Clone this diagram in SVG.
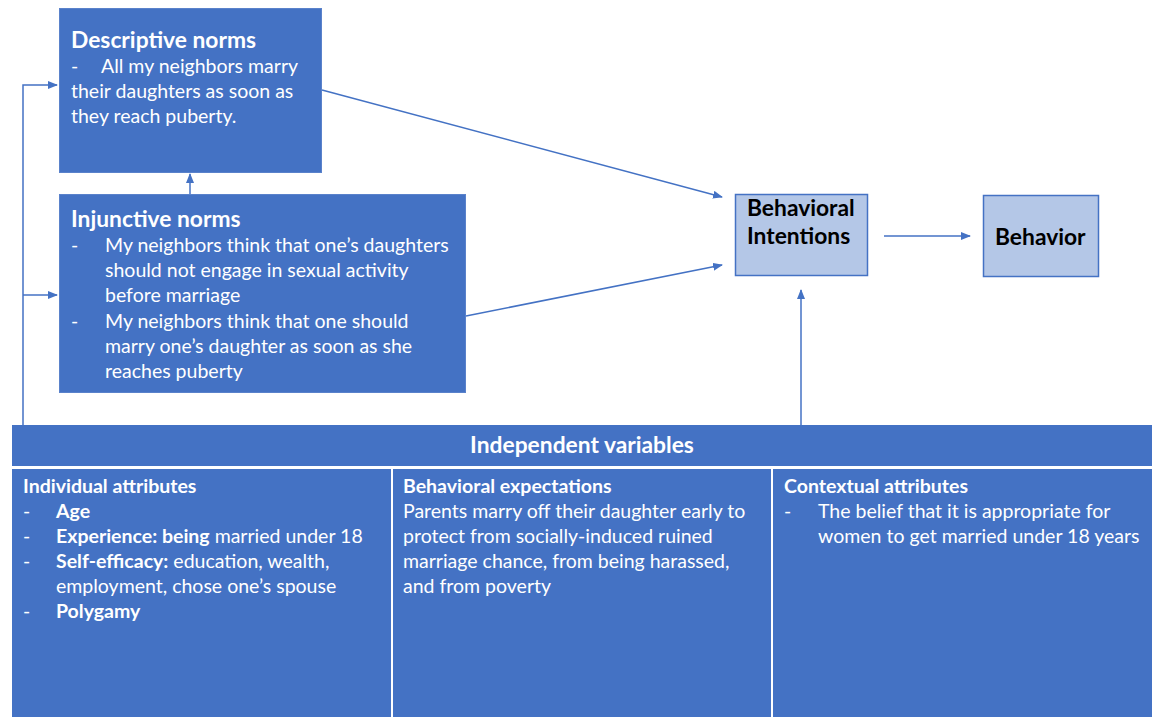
<svg xmlns="http://www.w3.org/2000/svg" width="1153" height="717" viewBox="0 0 1153 717">
<style>
.dark{fill:#4472C4;stroke:#5A82CB;stroke-width:1}
.light{fill:#B4C7E7;stroke:#4472C4;stroke-width:1.5}
.cell{fill:#4472C4}
text{font-family:Lato,"Liberation Sans",sans-serif;font-size:19.5px}
.w{fill:#FFFFFF}
.k{fill:#000000}
.b{font-weight:bold}
.t{font-size:22.8px;font-weight:bold}
.conn{stroke:#4472C4;stroke-width:1.5;fill:none}
</style>
<defs>
<marker id="ah" markerWidth="10" markerHeight="8" refX="9" refY="4" orient="auto" markerUnits="userSpaceOnUse">
<path d="M0,0 L10,4 L0,8 z" fill="#4472C4"/>
</marker>
</defs>
<rect width="1153" height="717" fill="#FFFFFF"/>

<g id="connectors">
<polyline class="conn" points="23,425 23,85 57,85" marker-end="url(#ah)"/>
<line class="conn" x1="23" y1="295" x2="57" y2="295" marker-end="url(#ah)"/>
<line class="conn" x1="190" y1="194" x2="190" y2="174" marker-end="url(#ah)"/>
<line class="conn" x1="322" y1="90" x2="722" y2="197" marker-end="url(#ah)"/>
<line class="conn" x1="466" y1="316" x2="722" y2="265" marker-end="url(#ah)"/>
<line class="conn" x1="884" y1="236" x2="970" y2="236" marker-end="url(#ah)"/>
<line class="conn" x1="801" y1="425" x2="801" y2="290" marker-end="url(#ah)"/>
</g>

<g id="descriptive-norms">
<rect class="dark" x="59.5" y="8.5" width="262" height="164"/>
<text class="w t" x="71" y="48">Descriptive norms</text>
<text class="w" x="71" y="73">-</text>
<text class="w" x="101" y="73">All my neighbors marry</text>
<text class="w" x="71" y="98">their daughters as soon as</text>
<text class="w" x="71" y="123">they reach puberty.</text>
</g>

<g id="injunctive-norms">
<rect class="dark" x="59.5" y="194.5" width="406" height="198"/>
<text class="w t" x="71" y="227">Injunctive norms</text>
<text class="w" x="71" y="252">-</text>
<text class="w" x="105" y="252">My neighbors think that one’s daughters</text>
<text class="w" x="105" y="277">should not engage in sexual activity</text>
<text class="w" x="105" y="302">before marriage</text>
<text class="w" x="71" y="328">-</text>
<text class="w" x="105" y="328">My neighbors think that one should</text>
<text class="w" x="105" y="353">marry one’s daughter as soon as she</text>
<text class="w" x="105" y="378">reaches puberty</text>
</g>

<g id="behavioral-intentions">
<rect class="light" x="735.5" y="194.5" width="132" height="81"/>
<text class="k t" x="747" y="216">Behavioral</text>
<text class="k t" x="747" y="244">Intentions</text>
</g>

<g id="behavior">
<rect class="light" x="983.5" y="195.5" width="115" height="81"/>
<text class="k t" x="995" y="245">Behavior</text>
</g>

<g id="independent-variables">
<rect class="cell" x="12" y="425" width="1140" height="41"/>
<text class="w t" x="582" y="453" text-anchor="middle">Independent variables</text>
</g>

<g id="individual-attributes">
<rect class="cell" x="12" y="469" width="379" height="248"/>
<text class="w b" x="23" y="493">Individual attributes</text>
<text class="w" x="23" y="518">-</text>
<text class="w b" x="56" y="518">Age</text>
<text class="w" x="23" y="543">-</text>
<text class="w" x="56" y="543"><tspan class="b">Experience: being</tspan> married under 18</text>
<text class="w" x="23" y="568">-</text>
<text class="w" x="56" y="568"><tspan class="b">Self-efficacy:</tspan> education, wealth,</text>
<text class="w" x="56" y="593">employment, chose one’s spouse</text>
<text class="w" x="23" y="618">-</text>
<text class="w b" x="56" y="618">Polygamy</text>
</g>

<g id="behavioral-expectations">
<rect class="cell" x="393" y="469" width="378" height="248"/>
<text class="w b" x="403" y="493">Behavioral expectations</text>
<text class="w" x="403" y="518">Parents marry off their daughter early to</text>
<text class="w" x="403" y="543">protect from socially-induced ruined</text>
<text class="w" x="403" y="568">marriage chance, from being harassed,</text>
<text class="w" x="403" y="593">and from poverty</text>
</g>

<g id="contextual-attributes">
<rect class="cell" x="773" y="469" width="379" height="248"/>
<text class="w b" x="784" y="493">Contextual attributes</text>
<text class="w" x="784" y="518">-</text>
<text class="w" x="818" y="518">The belief that it is appropriate for</text>
<text class="w" x="818" y="543">women to get married under 18 years</text>
</g>
</svg>
